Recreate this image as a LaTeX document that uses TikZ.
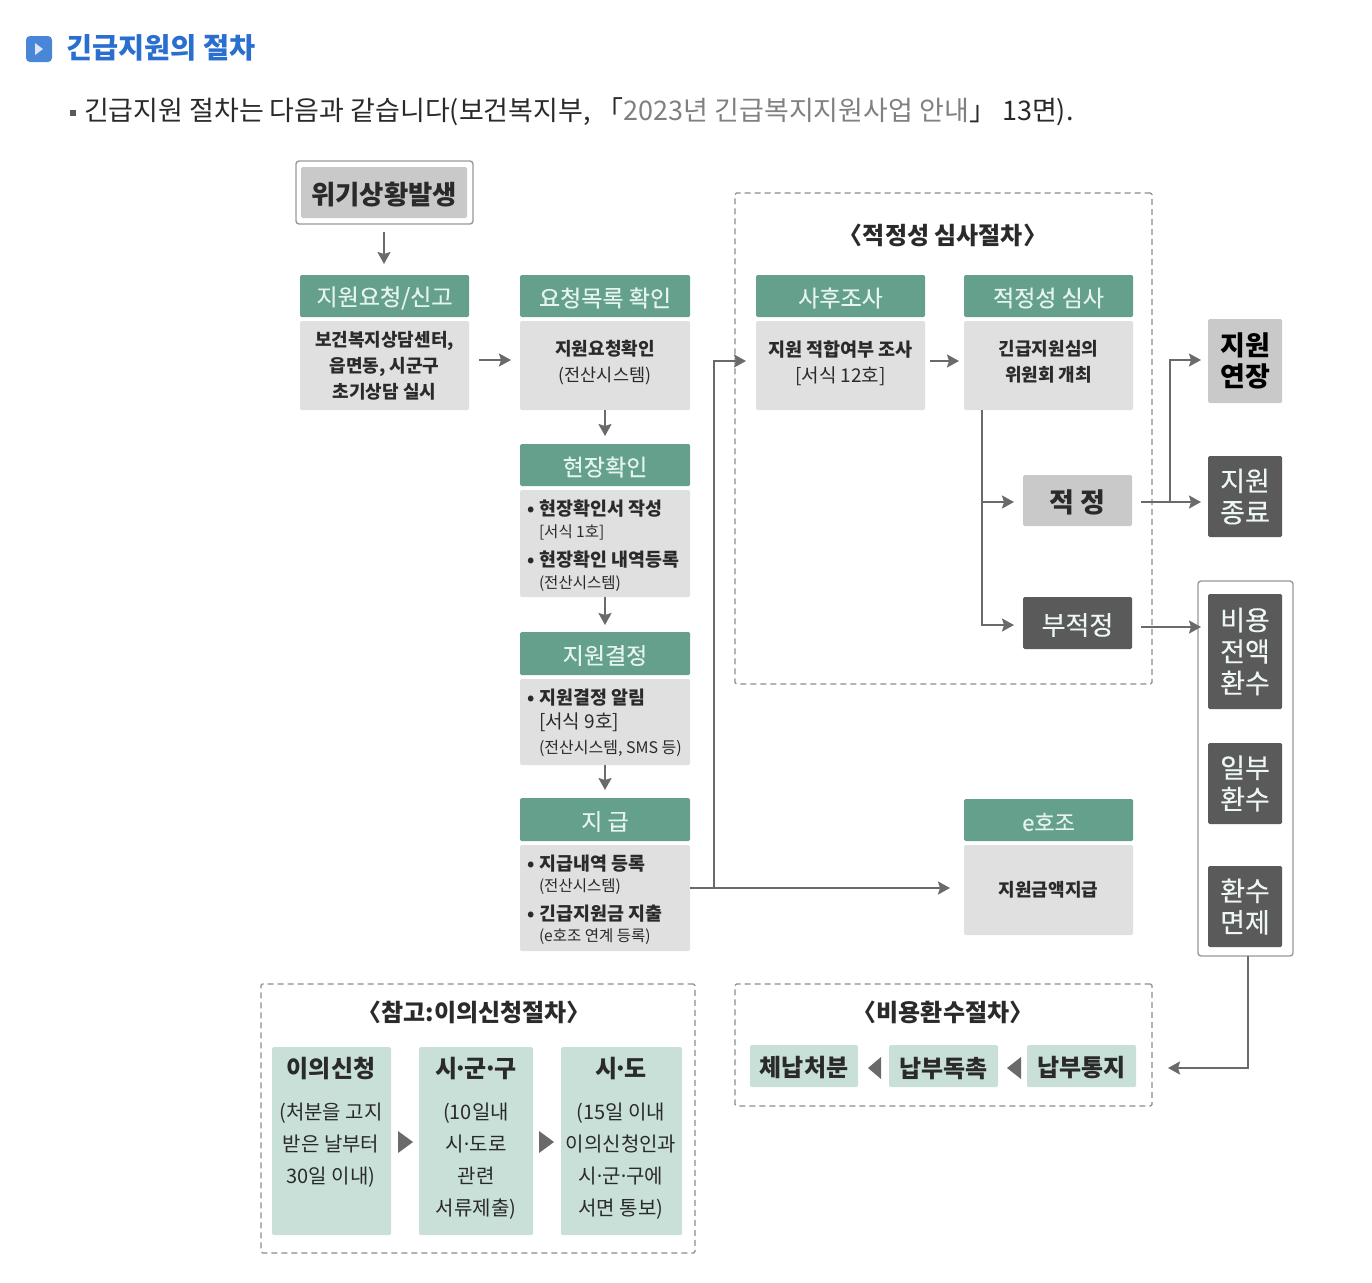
\documentclass[tikz,border=0pt]{standalone}
\usepackage{fontspec}
\setmainfont{Noto Sans CJK KR}
\newfontfamily\medf[FakeBold=0.35]{Noto Sans CJK KR}
\usetikzlibrary{arrows.meta,calc}
\definecolor{hgreen}{HTML}{65A08C}
\definecolor{hwhite}{HTML}{E6F4EE}
\definecolor{bgray}{HTML}{E0E0E0}
\definecolor{mgray}{HTML}{C9C9C9}
\definecolor{dgray}{HTML}{5A5A5A}
\definecolor{mint}{HTML}{C9E0D8}
\definecolor{linegray}{HTML}{6A6A6A}
\definecolor{txt}{HTML}{2A2A2A}
\definecolor{blue1}{HTML}{2A6FD0}
\definecolor{icon1}{HTML}{4A86D8}
\newcommand{\fs}[1]{\fontsize{#1}{#1}\selectfont}
\newcommand{\dn}[1]{\raisebox{-2pt}[\height][\depth]{#1}}
\newcommand{\mdot}[1]{\kern-#1pt·\kern-#1pt}
\newcommand{\bx}[7]{%
  \pgfmathsetmacro{\bw}{#5-#3}\pgfmathsetmacro{\bh}{#6-#4}%
  \pgfmathsetmacro{\bcx}{(#5+#3)/2}\pgfmathsetmacro{\bcy}{(#6+#4)/2}%
  \node[#1,minimum width=\bw pt,minimum height=\bh pt] (#2) at (\bcx,\bcy) {#7};}
\newcommand{\tx}[5]{\node[lbl,anchor=#3,yshift=-3pt] (#1) at (#2) {#4\strut#5};}
\tikzset{
  boxbase/.style={inner sep=0pt,outer sep=0pt,rounded corners=1.5pt,align=center,text=txt},
  headbox/.style={boxbase,fill=hgreen,text=hwhite,font=\fs{23}\medf},
  bodybox/.style={boxbase,fill=bgray},
  midbox/.style={boxbase,fill=mgray,font=\fs{27}\bfseries},
  darkbox/.style={boxbase,fill=dgray,text=hwhite!70!white,font=\fs{27}\medf},
  mintbox/.style={boxbase,fill=mint,font=\fs{24}\bfseries},
  framebox/.style={boxbase,draw=gray!80,line width=1.4pt,fill=white},
  dashbox/.style={boxbase,draw=gray!90,line width=1.2pt,dash pattern=on 6pt off 4pt},
  lbl/.style={inner sep=0pt,outer sep=0pt,text=txt},
  conn/.style={draw=linegray,line width=2.2pt},
  arr/.style={conn,-{Stealth[length=12pt,width=13pt,inset=2pt]}},
  tri/.style={fill=linegray,draw=none},
}
\begin{document}
\begin{tikzpicture}[x=1pt,y=-1pt]
\useasboundingbox (0,0) rectangle (1372,1282);
% page header
\bx{boxbase,fill=icon1,rounded corners=4pt}{icon}{26}{36}{52}{62}{}
\fill[white!80!icon1] (35,43) -- (43,49) -- (35,55) -- cycle;
\tx{title}{66,48}{west}{\fs{28.4}\bfseries\color{blue1}}{긴급지원의 절차}
\bx{boxbase,fill=dgray,rounded corners=0pt}{bullet}{70}{110}{76}{116}{}
\tx{intro}{84,110}{west}{\fs{27}\color{txt}}{긴급지원 절차는 다음과 같습니다(보건복지부, 「{\color{gray}2023년 긴급복지지원사업 안내}」 13면).}
% dashed groups
\bx{dashbox}{g1}{735}{193}{1152}{684}{}
\bx{dashbox}{g2}{735}{984}{1152}{1106}{}
\bx{dashbox}{g3}{261}{984}{695}{1253}{}
\tx{g1t}{943,235}{center}{\fs{24}\bfseries}{〈적정성 심사절차〉}
\tx{g2t}{943,1012}{center}{\fs{24}\bfseries}{〈비용환수절차〉}
\tx{g3t}{474,1012}{center}{\fs{24}\bfseries}{〈참고:이의신청절차〉}
% crisis
\bx{framebox,rounded corners=3pt}{crisisF}{296}{161}{473}{224}{}
\bx{midbox}{crisis}{301}{167}{467}{218}{\dn{\fs{26.4}\bfseries 위기상황발생}}
% column 1
\bx{headbox}{h1}{300}{275}{469}{317}{\dn{지원요청/신고}}
\bx{bodybox}{b1}{300}{321}{469}{410}{}
\tx{t1a}{384.5,339}{center}{\fs{18}\bfseries}{보건복지상담센터,}
\tx{t1b}{384.5,365}{center}{\fs{18}\bfseries}{읍면동, 시군구}
\tx{t1c}{384.5,391}{center}{\fs{18}\bfseries}{초기상담 실시}
% column 2
\bx{headbox}{h2}{520}{275}{690}{317}{\dn{요청목록 확인}}
\bx{bodybox}{b2}{520}{321}{690}{410}{}
\tx{t2a}{605,348}{center}{\fs{18}\bfseries}{지원요청확인}
\tx{t2b}{605,374}{center}{\fs{17.5}}{(전산시스템)}
\bx{headbox}{h3}{520}{444}{690}{486}{\dn{현장확인}}
\bx{bodybox}{b3}{520}{490}{690}{597}{}
\tx{t3a}{527,507}{west}{\fs{18.4}\bfseries}{•\kern5pt 현장확인서 작성}
\tx{t3b}{539,530}{west}{\fs{15.5}}{[서식 1호]}
\tx{t3c}{527,558}{west}{\fs{18.4}\bfseries}{•\kern5pt 현장확인 내역등록}
\tx{t3d}{539,581}{west}{\fs{15.5}}{(전산시스템)}
\bx{headbox}{h4}{520}{632}{690}{675}{\dn{지원결정}}
\bx{bodybox}{b4}{520}{679}{690}{765}{}
\tx{t4a}{527,696}{west}{\fs{18.4}\bfseries}{•\kern5pt 지원결정 알림}
\tx{t4b}{539,720}{west}{\fs{19}}{[서식 9호]}
\tx{t4c}{539,746}{west}{\fs{16}}{(전산시스템, SMS 등)}
\bx{headbox}{h5}{520}{798}{690}{841}{\dn{지 급}}
\bx{bodybox}{b5}{520}{845}{690}{951}{}
\tx{t5a}{527,862}{west}{\fs{18.4}\bfseries}{•\kern5pt 지급내역 등록}
\tx{t5b}{539,884}{west}{\fs{15.5}}{(전산시스템)}
\tx{t5c}{527,912}{west}{\fs{18.4}\bfseries}{•\kern5pt 긴급지원금 지출}
\tx{t5d}{539,934}{west}{\fs{15.5}}{(e호조 연계 등록)}
% review
\bx{headbox}{h6}{756}{275}{925}{317}{\dn{사후조사}}
\bx{bodybox}{b6}{756}{321}{925}{410}{}
\tx{t6a}{840.5,348}{center}{\fs{18.5}\bfseries}{지원 적합여부 조사}
\tx{t6b}{840.5,374}{center}{\fs{19}}{[서식 12호]}
\bx{headbox}{h7}{964}{275}{1133}{317}{\dn{적정성 심사}}
\bx{bodybox}{b7}{964}{321}{1133}{410}{}
\tx{t7a}{1048.5,348}{center}{\fs{18}\bfseries}{긴급지원심의}
\tx{t7b}{1048.5,374}{center}{\fs{18}\bfseries}{위원회 개최}
\bx{midbox,font=\fs{27}\bfseries}{ok}{1023}{475}{1132}{526}{\dn{적 정}}
\bx{darkbox,font=\fs{26}\medf}{no}{1023}{597}{1132}{649}{\dn{부적정}}
% e-hojo
\bx{headbox,font=\fs{22}\medf}{h8}{964}{799}{1133}{841}{\dn{e호조}}
\bx{bodybox}{b8}{964}{845}{1133}{935}{\fs{18}\bfseries 지원금액지급}
% outcomes
\bx{midbox,text=black}{r1}{1208}{319}{1282}{403}{지원\\[4.5pt]연장}
\bx{darkbox}{r2}{1208}{456}{1282}{537}{지원\\[4.5pt]종료}
\bx{framebox,rounded corners=3pt}{rg}{1198}{581}{1293}{956}{}
\bx{darkbox}{r3}{1208}{594}{1282}{709}{비용\\[4.5pt]전액\\[4.5pt]환수}
\bx{darkbox}{r4}{1208}{743}{1282}{824}{일부\\[4.5pt]환수}
\bx{darkbox}{r5}{1208}{866}{1282}{947}{환수\\[4.5pt]면제}
% refund
\bx{mintbox}{p1}{750}{1045}{858}{1087}{\dn{체납처분}}
\bx{mintbox}{p2}{889}{1045}{998}{1087}{\dn{납부독촉}}
\bx{mintbox}{p3}{1027}{1045}{1136}{1087}{\dn{납부통지}}
% appeal
\bx{mintbox}{a1}{272}{1047}{391}{1235}{}
\bx{mintbox}{a2}{419}{1047}{533}{1235}{}
\bx{mintbox}{a3}{561}{1047}{682}{1235}{}
\tx{a1h}{331,1068}{center}{\fs{24}\bfseries}{이의신청}
\tx{a2h}{476,1068}{center}{\fs{24}\bfseries}{시\mdot{3.5}군\mdot{3.5}구}
\tx{a3h}{621,1068}{center}{\fs{24}\bfseries}{시\mdot{3.5}도}
\tx{a1a}{331,1111}{center}{\fs{20}}{(처분을 고지}
\tx{a1b}{331,1143}{center}{\fs{20}}{받은 날부터}
\tx{a1c}{331,1175}{center}{\fs{20}}{30일 이내)}
\tx{a2a}{476,1111}{center}{\fs{20}}{(10일내}
\tx{a2b}{476,1143}{center}{\fs{20}}{시\mdot{2.5}도로}
\tx{a2c}{476,1175}{center}{\fs{20}}{관련}
\tx{a2d}{476,1207}{center}{\fs{20}}{서류제출)}
\tx{a3a}{621,1111}{center}{\fs{20}}{(15일 이내}
\tx{a3b}{621,1143}{center}{\fs{20}}{이의신청인과}
\tx{a3c}{621,1175}{center}{\fs{20}}{시\mdot{3}군\mdot{3}구에}
\tx{a3d}{621,1207}{center}{\fs{20}}{서면 통보)}
% triangles between boxes
\fill[tri] (398,1131) -- (413,1142) -- (398,1153) -- cycle;
\fill[tri] (539,1131) -- (554,1142) -- (539,1153) -- cycle;
\fill[tri] (881,1057) -- (868,1068) -- (881,1079) -- cycle;
\fill[tri] (1021,1057) -- (1007,1068) -- (1021,1079) -- cycle;
% connector coordinates
\coordinate (a0s) at (384,232); \coordinate (a0e) at (384,264);
\coordinate (a1s) at (479,360); \coordinate (a1e) at (511,360);
\coordinate (a2e) at (605,436);
\coordinate (a3e) at (605,625);
\coordinate (a4e) at (605,790);
\coordinate (jct) at (714,888);
\coordinate (knee) at (714,361);
\coordinate (a5e) at (746,361);
\coordinate (a6e) at (950,888);
\coordinate (a7s) at (930,361); \coordinate (a7e) at (959,361);
\coordinate (v) at (982,410);
\coordinate (v1) at (982,502); \coordinate (v1e) at (1014,502);
\coordinate (v2) at (982,625); \coordinate (v2e) at (1014,625);
\coordinate (okS) at (1141,502); \coordinate (okE) at (1201,502);
\coordinate (okJ) at (1170,502); \coordinate (okK) at (1170,360); \coordinate (okE2) at (1201,360);
\coordinate (noS) at (1141,627); \coordinate (noE) at (1201,627);
\coordinate (rS) at (1248,956); \coordinate (rK) at (1248,1068); \coordinate (rE) at (1168,1068);
% connectors
\draw[arr] (a0s) -- (a0e);
\draw[arr] (a1s) -- (a1e);
\draw[arr] (b2.south) -- (a2e);
\draw[arr] (b3.south) -- (a3e);
\draw[arr] (b4.south) -- (a4e);
\draw[arr] (b5.east |- jct) -- (a6e);
\draw[arr] (jct) -- (knee) -- (a5e);
\draw[arr] (a7s) -- (a7e);
\draw[conn] (v) -- (v1);
\draw[arr] (v1) -- (v1e);
\draw[arr] (v1) -- (v2) -- (v2e);
\draw[arr] (okS) -- (okE);
\draw[arr] (okJ) -- (okK) -- (okE2);
\draw[arr] (noS) -- (noE);
\draw[arr] (rS) -- (rK) -- (rE);
\end{tikzpicture}
\end{document}
